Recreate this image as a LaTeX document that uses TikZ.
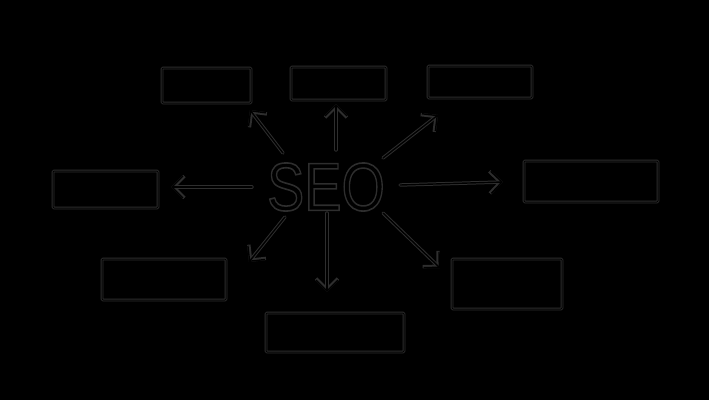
\documentclass[tikz,border=0pt]{standalone}
\usepackage{fontspec}
\setmainfont{Liberation Sans}
\usetikzlibrary{arrows.meta}
\definecolor{halo}{gray}{0.18}
\newcommand{\outlinetext}[1]{\special{pdf:literal direct 1 Tr 1.6 w 0.18 G}#1\special{pdf:literal direct 0 Tr 0 G}}
\tikzset{
  ink/.style={draw=black, line width=1pt, line cap=round, line join=round,
    preaction={draw=halo, line width=2.8pt, line cap=round, line join=round}},
  sbox/.style={ink, rectangle, rounded corners=1pt, inner sep=0pt},
  sarrow/.style={draw=black, line width=1.4pt, line cap=round, line join=round,
    preaction={draw=halo, line width=3.4pt, line cap=round, line join=round},
    -{Straight Barb[length=11pt,width=22pt]}},
}
\begin{document}
\begin{tikzpicture}[x=1pt,y=-1pt]
\fill[black] (0,0) rectangle (709,400);
\useasboundingbox (0,0) rectangle (709,400);
% boxes
\node[sbox, minimum width=89pt, minimum height=35pt] (tl) at (206.5,85.5) {};
\node[sbox, minimum width=95pt, minimum height=33pt] (tm) at (338.5,83.5) {};
\node[sbox, minimum width=104pt, minimum height=32pt] (tr) at (480,82) {};
\node[sbox, minimum width=105pt, minimum height=37pt] (lf) at (105.5,189.5) {};
\node[sbox, minimum width=134pt, minimum height=41pt] (rt) at (591,181.5) {};
\node[sbox, minimum width=124pt, minimum height=41pt] (bl) at (164,279.5) {};
\node[sbox, minimum width=138pt, minimum height=39pt] (bm) at (335,332.5) {};
\node[sbox, minimum width=110pt, minimum height=50pt] (br) at (507,284) {};
% central text
\node[inner sep=0pt, text=black] (seo) at (326,187) {\fontsize{68}{68}\selectfont\scalebox{0.82}[1]{\outlinetext{SEO}}};
% arrow end points
\coordinate (s1) at (283,153); \coordinate (e1) at (250,110);
\coordinate (s2) at (336,150); \coordinate (e2) at (336,104);
\coordinate (s3) at (383,158); \coordinate (e3) at (438,115);
\coordinate (s4) at (252,187); \coordinate (e4) at (171,187);
\coordinate (s5) at (400,185); \coordinate (e5) at (503,182);
\coordinate (s6) at (285,217); \coordinate (e6) at (249,262);
\coordinate (s7) at (327,213); \coordinate (e7) at (327,292);
\coordinate (s8) at (383,213); \coordinate (e8) at (440,268);
\foreach \i in {1,...,8} {\draw[sarrow] (s\i) -- (e\i);}
\end{tikzpicture}
\end{document}
